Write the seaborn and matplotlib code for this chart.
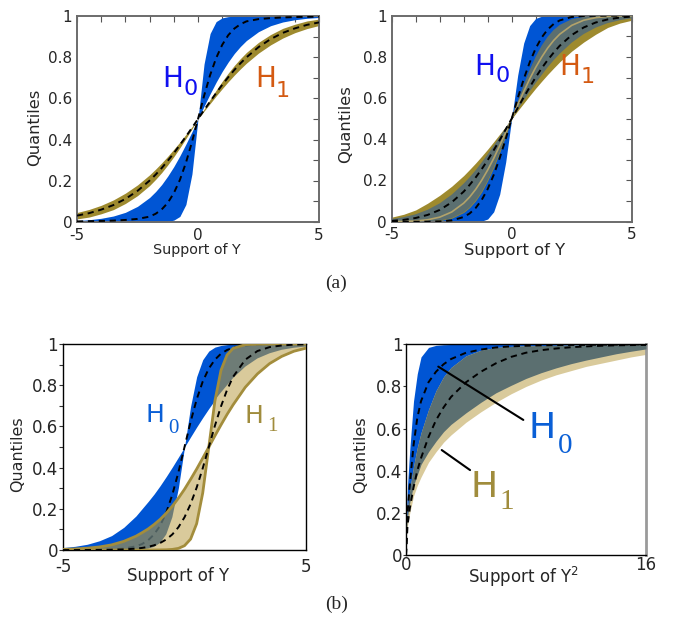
import numpy as np
import matplotlib
matplotlib.use("Agg")
import matplotlib.pyplot as plt
import seaborn as sns

sns.set_theme(style="white")
plt.rcParams["font.family"] = ["DejaVu Sans"]
plt.rcParams["axes.unicode_minus"] = False

# support grid used by the three panels on Y
y_support = [-5, -4.5, -4, -3.5, -3, -2.5, -2, -1.75, -1.5, -1.25, -1, -0.75, -0.5, -0.25, 0,
             0.25, 0.5, 0.75, 1, 1.25, 1.5, 1.75, 2, 2.5, 3, 3.5, 4, 4.5, 5]

# (a) left : quantile bands
a1_h0_steep = [0, 0, 0, 0, 0, 0, 0.0001, 0.0002, 0.0008, 0.003, 0.009, 0.027, 0.085, 0.233, 0.5,
               0.767, 0.915, 0.973, 0.991, 0.997, 0.9992, 0.9998, 0.9999, 1, 1, 1, 1, 1, 1]
a1_h0_shallow = [0.007, 0.011, 0.018, 0.029, 0.047, 0.076, 0.119, 0.148, 0.182, 0.223, 0.269, 0.321, 0.378, 0.438, 0.5,
                 0.562, 0.622, 0.679, 0.731, 0.777, 0.818, 0.852, 0.881, 0.924, 0.953, 0.971, 0.982, 0.989, 0.993]
a1_h0_median = [0.003, 0.004, 0.005, 0.007, 0.01, 0.015, 0.026, 0.04, 0.061, 0.093, 0.14, 0.204, 0.287, 0.388, 0.5,
                0.612, 0.713, 0.796, 0.86, 0.907, 0.939, 0.96, 0.974, 0.985, 0.99, 0.993, 0.995, 0.996, 0.997]
a1_h1_narrow = [0.015, 0.024, 0.04, 0.06, 0.09, 0.128, 0.177, 0.207, 0.24, 0.277, 0.317, 0.36, 0.405, 0.452, 0.5,
                0.548, 0.595, 0.64, 0.683, 0.723, 0.76, 0.793, 0.823, 0.872, 0.91, 0.94, 0.96, 0.976, 0.985]
a1_h1_wide = [0.046, 0.061, 0.081, 0.107, 0.14, 0.18, 0.229, 0.257, 0.287, 0.319, 0.353, 0.388, 0.425, 0.462, 0.5,
              0.538, 0.575, 0.612, 0.647, 0.681, 0.713, 0.743, 0.771, 0.82, 0.86, 0.893, 0.919, 0.939, 0.954]
a1_h1_median = [0.031, 0.043, 0.06, 0.082, 0.112, 0.151, 0.201, 0.23, 0.262, 0.297, 0.334, 0.374, 0.415, 0.457, 0.5,
                0.543, 0.585, 0.626, 0.666, 0.703, 0.738, 0.77, 0.799, 0.849, 0.888, 0.918, 0.94, 0.957, 0.969]

# (a) right
a2_h0_steep = [0, 0, 0, 0, 0, 0, 0, 0.0001, 0.0004, 0.0027, 0.013, 0.048, 0.133, 0.289, 0.5,
               0.711, 0.867, 0.952, 0.987, 0.9973, 0.9996, 0.9999, 1, 1, 1, 1, 1, 1, 1]
a2_h0_shallow = [0.0125, 0.022, 0.036, 0.058, 0.089, 0.131, 0.185, 0.216, 0.25, 0.288, 0.327, 0.368, 0.411, 0.455, 0.5,
                 0.545, 0.589, 0.632, 0.673, 0.712, 0.75, 0.784, 0.815, 0.869, 0.911, 0.942, 0.964, 0.978, 0.9875]
a2_h0_median = [0, 0, 0, 0.0002, 0.0013, 0.0062, 0.0228, 0.0401, 0.0668, 0.1056, 0.1587, 0.2266, 0.3085, 0.4013, 0.5,
                0.5987, 0.6915, 0.7734, 0.8413, 0.8944, 0.9332, 0.9599, 0.9772, 0.9938, 0.9987, 0.9998, 1, 1, 1]
a2_h1_inner = [0, 0.0001, 0.0003, 0.0015, 0.0055, 0.017, 0.045, 0.069, 0.102, 0.145, 0.199, 0.263, 0.336, 0.416, 0.5,
               0.584, 0.664, 0.737, 0.801, 0.855, 0.898, 0.931, 0.955, 0.983, 0.9945, 0.9985, 0.9997, 0.9999, 1]
a2_h1_outer = [0.022, 0.036, 0.057, 0.09, 0.128, 0.172, 0.224, 0.254, 0.285, 0.318, 0.352, 0.388, 0.425, 0.462, 0.5,
               0.538, 0.575, 0.612, 0.648, 0.682, 0.715, 0.746, 0.776, 0.828, 0.872, 0.91, 0.943, 0.964, 0.978]
a2_h1_median = [0.004, 0.009, 0.018, 0.033, 0.057, 0.094, 0.146, 0.179, 0.215, 0.255, 0.299, 0.347, 0.396, 0.448, 0.5,
                0.552, 0.604, 0.653, 0.701, 0.745, 0.785, 0.821, 0.854, 0.906, 0.943, 0.967, 0.982, 0.991, 0.996]
a2_h1_edge = [0.0004, 0.0013, 0.0036, 0.0094, 0.022, 0.047, 0.09, 0.12, 0.157, 0.201, 0.251, 0.307, 0.369, 0.433, 0.5,
              0.567, 0.631, 0.693, 0.749, 0.799, 0.843, 0.88, 0.91, 0.953, 0.978, 0.9906, 0.9964, 0.9987, 0.9996]

# (b) left : H1 shifted to the right
b1_h0_steep = [0, 0, 0, 0, 0, 0.0002, 0.0013, 0.0029, 0.0067, 0.0153, 0.0344, 0.0759, 0.159, 0.303, 0.5,
               0.697, 0.841, 0.924, 0.966, 0.985, 0.993, 0.997, 0.999, 1, 1, 1, 1, 1, 1]
b1_h0_shallow = [0.012, 0.018, 0.028, 0.045, 0.07, 0.11, 0.165, 0.2, 0.235, 0.272, 0.313, 0.357, 0.403, 0.451, 0.5,
                 0.549, 0.597, 0.643, 0.687, 0.728, 0.765, 0.8, 0.835, 0.89, 0.93, 0.955, 0.972, 0.982, 0.988]
b1_h0_median = [0, 0.0001, 0.0003, 0.0009, 0.0025, 0.0067, 0.018, 0.029, 0.047, 0.076, 0.119, 0.182, 0.269, 0.378, 0.5,
                0.622, 0.731, 0.818, 0.881, 0.924, 0.953, 0.971, 0.982, 0.993, 0.9975, 0.9991, 0.9997, 0.9999, 1]
b1_h1_steep = [0, 0, 0, 0, 0, 0, 0, 0, 0, 0.0002, 0.0005, 0.0012, 0.003, 0.008, 0.021,
               0.053, 0.128, 0.277, 0.5, 0.723, 0.872, 0.947, 0.979, 0.997, 0.9995, 1, 1, 1, 1]
b1_h1_shallow = [0.003, 0.005, 0.009, 0.015, 0.025, 0.042, 0.067, 0.084, 0.102, 0.124, 0.149, 0.179, 0.213, 0.252, 0.295,
                 0.343, 0.393, 0.446, 0.5, 0.554, 0.607, 0.658, 0.705, 0.79, 0.855, 0.905, 0.94, 0.965, 0.98]
b1_h1_median = [0, 0, 0.0002, 0.0006, 0.0013, 0.0029, 0.0067, 0.0101, 0.0153, 0.023, 0.0344, 0.0513, 0.0759, 0.1107, 0.159,
                0.223, 0.303, 0.397, 0.5, 0.603, 0.697, 0.777, 0.841, 0.924, 0.966, 0.985, 0.993, 0.997, 0.999]

# (b) right : support of Y^2
y2_support = [0, 0.1, 0.25, 0.5, 0.75, 1, 1.5, 2, 2.5, 3, 4, 5, 6, 7, 8, 9, 10, 11, 12, 13, 14, 15, 16]
b2_h0_steep = [0.14, 0.33, 0.5, 0.73, 0.86, 0.94, 0.985, 0.995, 0.998, 0.999, 1, 1, 1, 1, 1, 1, 1, 1, 1, 1, 1, 1, 1]
b2_h0_shallow = [0.1, 0.18, 0.25, 0.33, 0.38, 0.43, 0.49, 0.54, 0.585, 0.62, 0.675, 0.725, 0.77, 0.805, 0.838,
                 0.865, 0.888, 0.908, 0.925, 0.94, 0.955, 0.967, 0.978]
b2_h0_median = [0, 0.2, 0.33, 0.52, 0.65, 0.73, 0.82, 0.87, 0.905, 0.93, 0.96, 0.975, 0.985, 0.99, 0.993,
                0.995, 0.996, 0.997, 0.997, 0.998, 0.998, 0.999, 0.999]
b2_h1_steep = [0.12, 0.22, 0.31, 0.42, 0.51, 0.58, 0.69, 0.78, 0.845, 0.89, 0.945, 0.972, 0.985, 0.99, 0.993,
               0.994, 0.995, 0.996, 0.997, 0.997, 0.998, 0.998, 0.999]
b2_h1_shallow = [0.08, 0.14, 0.2, 0.28, 0.33, 0.37, 0.44, 0.49, 0.535, 0.57, 0.63, 0.68, 0.725, 0.765, 0.8,
                 0.83, 0.855, 0.875, 0.895, 0.91, 0.925, 0.94, 0.952]
b2_h1_median = [0, 0.14, 0.22, 0.32, 0.4, 0.46, 0.56, 0.64, 0.7, 0.75, 0.82, 0.87, 0.91, 0.94, 0.96,
                0.972, 0.98, 0.986, 0.99, 0.993, 0.995, 0.996, 0.997]

BLUE = "#0055d4"
OLIVE = "#9e8a2e"
TAN = "#d9ca9b"
GOLD_LINE = "#a38d3c"
GREY = "#5b6f70"
DASH = (0, (3.2, 2.4))


def draw_bands(ax, x, h0_a, h0_b, h1_a, h1_b, c0, c1, c_both=None, both_alpha=1.0):
    x = np.asarray(x)
    lo0, hi0 = np.minimum(h0_a, h0_b), np.maximum(h0_a, h0_b)
    lo1, hi1 = np.minimum(h1_a, h1_b), np.maximum(h1_a, h1_b)
    ax.fill_between(x, lo0, hi0, color=c0, lw=0, zorder=1)
    ax.fill_between(x, lo1, hi1, color=c1, lw=0, zorder=2)
    if c_both is not None:
        lo, hi = np.maximum(lo0, lo1), np.minimum(hi0, hi1)
        ax.fill_between(x, lo, hi, where=hi > lo, interpolate=True,
                        color=c_both, alpha=both_alpha, lw=0, zorder=4)


def dashed(ax, x, y, z=6):
    sns.lineplot(x=x, y=y, ax=ax, color="black", lw=1.4, linestyle=DASH, legend=False, zorder=z)


def style_a(ax):
    ax.set_xlim(-5, 5)
    ax.set_ylim(0, 1)
    ax.set_xticks([-5, 0, 5])
    ax.set_xticklabels(["-5", "0", "5"])
    ax.set_xticks(np.arange(-5, 6, 1), minor=True)
    ax.set_yticks([0, 0.2, 0.4, 0.6, 0.8, 1])
    ax.set_yticklabels(["0", "0.2", "0.4", "0.6", "0.8", "1"])
    ax.set_yticks(np.arange(0, 1.01, 0.1), minor=True)
    ax.tick_params(which="both", direction="in", top=True, right=True, length=4,
                   width=0.8, color="#555555", labelsize=11)
    ax.tick_params(axis="y", pad=3.5)
    ax.tick_params(axis="x", pad=4)
    for s in ax.spines.values():
        s.set_color("#6b6b6b")
        s.set_linewidth(1.4)


def style_b(ax):
    ax.set_ylim(0, 1)
    ax.set_yticks([0, 0.2, 0.4, 0.6, 0.8, 1])
    ax.set_yticklabels(["0", "0.2", "0.4", "0.6", "0.8", "1"])
    ax.tick_params(axis="y", direction="out", length=3, width=0.8, color="#333333",
                   labelsize=12, pad=0.5, left=True)
    ax.tick_params(axis="x", length=0, labelsize=12)
    for s in ax.spines.values():
        s.set_color("black")
        s.set_linewidth(1.0)


def h_label(ax, x, y, sub, sx, sy, color, size, sub_size, sub_font):
    ax.text(x, y, "H", transform=ax.transAxes, color=color, fontsize=size,
            ha="left", va="baseline", zorder=10)
    ax.text(sx, sy, sub, transform=ax.transAxes, color=color, fontsize=sub_size,
            ha="left", va="baseline", family=sub_font, zorder=10)


fig = plt.figure(figsize=(6.73, 6.21), dpi=100)

# ---- (a) left
ax = fig.add_axes([0.1144, 0.6425, 0.3596, 0.3317])
draw_bands(ax, y_support, a1_h0_steep, a1_h0_shallow, a1_h1_narrow, a1_h1_wide, BLUE, OLIVE)
dashed(ax, y_support, a1_h0_median)
dashed(ax, y_support, a1_h1_median)
style_a(ax)
ax.set_xlabel("Support of Y", fontsize=10.3)
ax.set_ylabel("Quantiles", fontsize=11.7)
ax.xaxis.set_label_coords(0.495, -0.103)
ax.yaxis.set_label_coords(-0.146, 0.46)
h_label(ax, 0.352, 0.654, "0", 0.44, 0.617, "#1010f0", 20, 16, "DejaVu Sans")
h_label(ax, 0.735, 0.657, "1", 0.822, 0.607, "#d45a12", 20, 16, "DejaVu Sans")

# ---- (a) right
ax = fig.add_axes([0.5820, 0.6430, 0.3566, 0.3317])
draw_bands(ax, y_support, a2_h0_steep, a2_h0_shallow, a2_h1_inner, a2_h1_outer, BLUE, OLIVE, GREY)
sns.lineplot(x=y_support, y=a2_h1_edge, ax=ax, color="#b3a36a", lw=1.2, legend=False, zorder=5)
dashed(ax, y_support, a2_h0_median)
dashed(ax, y_support, a2_h1_median)
style_a(ax)
ax.set_xlabel("Support of Y", fontsize=11.8)
ax.set_ylabel("Quantiles", fontsize=11.8)
ax.xaxis.set_label_coords(0.51, -0.102)
ax.yaxis.set_label_coords(-0.16, 0.474)
h_label(ax, 0.343, 0.712, "0", 0.434, 0.68, "#1010f0", 20, 16, "DejaVu Sans")
h_label(ax, 0.697, 0.712, "1", 0.786, 0.672, "#d45a12", 20, 16, "DejaVu Sans")

# ---- (b) left
ax = fig.add_axes([0.0936, 0.1143, 0.3611, 0.3317])
draw_bands(ax, y_support, b1_h0_steep, b1_h0_shallow, b1_h1_steep, b1_h1_shallow, BLUE, TAN)
dashed(ax, y_support, b1_h0_median, z=3)
lo0 = np.minimum(b1_h0_steep, b1_h0_shallow)
hi0 = np.maximum(b1_h0_steep, b1_h0_shallow)
lo1 = np.minimum(b1_h1_steep, b1_h1_shallow)
hi1 = np.maximum(b1_h1_steep, b1_h1_shallow)
lo, hi = np.maximum(lo0, lo1), np.minimum(hi0, hi1)
ax.fill_between(y_support, lo, hi, where=hi > lo, interpolate=True, color=GREY, alpha=0.85, lw=0, zorder=4)
sns.lineplot(x=y_support, y=b1_h1_steep, ax=ax, color=GOLD_LINE, lw=2, legend=False, zorder=5)
sns.lineplot(x=y_support, y=b1_h1_shallow, ax=ax, color=GOLD_LINE, lw=2, legend=False, zorder=5)
dashed(ax, y_support, b1_h1_median)
ax.set_xlim(-5, 5)
ax.set_xticks([-5, 5])
ax.set_xticklabels(["-5", "5"])
style_b(ax)
ax.set_yticks(np.arange(0, 1.01, 0.1), minor=True)
ax.tick_params(axis="y", which="minor", direction="out", length=3, width=0.8, color="#333333", left=True)
ax.tick_params(axis="x", pad=5.5)
ax.set_xlabel("Support of Y", fontsize=12)
ax.set_ylabel("Quantiles", fontsize=11.4)
ax.xaxis.set_label_coords(0.473, -0.081)
ax.yaxis.set_label_coords(-0.156, 0.466)
h_label(ax, 0.34, 0.623, "0", 0.432, 0.568, "#0a5fd6", 18, 15, "Liberation Serif")
h_label(ax, 0.745, 0.617, "1", 0.84, 0.578, "#a08c3c", 18, 15, "Liberation Serif")

# ---- (b) right
ax = fig.add_axes([0.6033, 0.1063, 0.3566, 0.3393])
draw_bands(ax, y2_support, b2_h0_steep, b2_h0_shallow, b2_h1_steep, b2_h1_shallow, BLUE, TAN, GREY)
dashed(ax, y2_support, b2_h0_median)
dashed(ax, y2_support, b2_h1_median)
ax.set_xlim(0, 16)
ax.set_xticks([0, 16])
ax.set_xticklabels(["0", "16"])
style_b(ax)
ax.tick_params(axis="x", pad=0.5)
ax.tick_params(axis="y", length=2)
ax.spines["right"].set_color("#9a9a9a")
ax.spines["right"].set_linewidth(2)
ax.set_xlabel("Support of Y$^2$", fontsize=12)
ax.set_ylabel("Quantiles", fontsize=11.6)
ax.xaxis.set_label_coords(0.489, -0.045)
ax.yaxis.set_label_coords(-0.157, 0.475)
# pointer lines to the band labels
ax.plot([2.15, 7.82], [0.894, 0.641], color="black", lw=1.5, zorder=8)
ax.plot([2.38, 4.27], [0.498, 0.403], color="black", lw=1.5, zorder=8)
h_label(ax, 0.512, 0.554, "0", 0.632, 0.485, "#0a5fd6", 26, 21, "Liberation Serif")
h_label(ax, 0.27, 0.277, "1", 0.39, 0.216, "#a08c3c", 26, 21, "Liberation Serif")

fig.text(0.5, 1 - 283 / 621, "(a)", ha="center", va="center", fontsize=14, family="Liberation Serif")
fig.text(0.5, 1 - 604 / 621, "(b)", ha="center", va="center", fontsize=14, family="Liberation Serif")

fig.savefig("out.png", dpi=100, facecolor="white")
